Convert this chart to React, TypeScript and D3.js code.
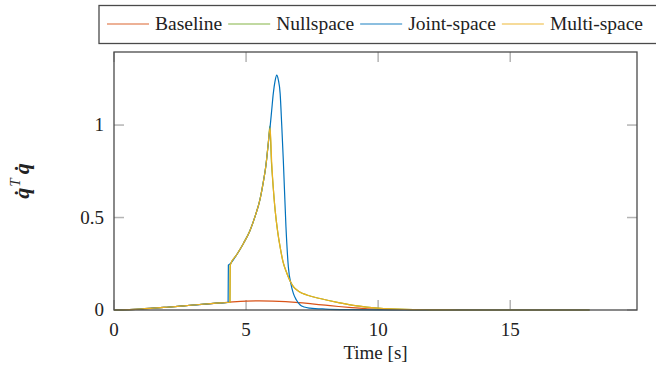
import React, { useEffect, useRef } from 'react';
import * as d3 from 'd3';

const seriesNames = ['Baseline', 'Nullspace', 'Joint-space', 'Multi-space'];
const seriesColors = ['#D95319', '#77AC30', '#0072BD', '#EDB120'];

const baselineT = [0, 1, 2, 3, 4, 4.5, 5, 5.5, 6, 6.5, 7, 7.5, 8, 8.5, 9, 9.5, 10, 11, 12, 14, 18];
const baselineV = [0, 0.005, 0.015, 0.027, 0.038, 0.044, 0.048, 0.049, 0.048, 0.045, 0.04, 0.033, 0.026, 0.019, 0.013, 0.008, 0.005, 0.002, 0.0005, 0, 0];

const nullspaceT = [0, 1, 2, 3, 4, 4.39, 4.4, 4.65, 4.9, 5.15, 5.35, 5.53, 5.65, 5.75, 5.84, 5.9, 5.96, 6.03, 6.1, 6.2, 6.29, 6.4, 6.54, 6.79, 7.0, 7.3, 7.8, 8.5, 9.2, 10, 11, 12, 13, 18];
const nullspaceV = [0, 0.005, 0.015, 0.027, 0.038, 0.042, 0.243, 0.3, 0.36, 0.43, 0.51, 0.6, 0.69, 0.78, 0.9, 0.995, 0.8, 0.66, 0.54, 0.42, 0.34, 0.26, 0.2, 0.126, 0.1, 0.081, 0.062, 0.04, 0.022, 0.01, 0.003, 0.001, 0, 0];

const jointT = [0, 1, 2, 3, 4, 4.32, 4.33, 4.4, 4.65, 4.9, 5.15, 5.35, 5.53, 5.65, 5.75, 5.84, 5.91, 5.97, 6.03, 6.1, 6.16, 6.22, 6.29, 6.35, 6.41, 6.51, 6.6, 6.7, 6.79, 6.9, 7.05, 7.2, 7.42, 8, 9, 10, 11, 18];
const jointV = [0, 0.005, 0.015, 0.027, 0.038, 0.041, 0.243, 0.25, 0.3, 0.36, 0.43, 0.51, 0.6, 0.69, 0.78, 0.9, 0.99, 1.08, 1.17, 1.24, 1.27, 1.245, 1.17, 1.0, 0.81, 0.45, 0.234, 0.14, 0.09, 0.055, 0.027, 0.016, 0.01, 0.005, 0.002, 0.001, 0, 0];

const multiT = [0, 1, 2, 3, 4, 4.39, 4.4, 4.65, 4.9, 5.15, 5.35, 5.53, 5.65, 5.75, 5.84, 5.91, 5.97, 6.03, 6.1, 6.2, 6.29, 6.4, 6.54, 6.79, 7.0, 7.3, 7.8, 8.5, 9.2, 10, 11, 12, 13, 18];
const multiV = [0, 0.005, 0.015, 0.027, 0.038, 0.042, 0.243, 0.3, 0.36, 0.43, 0.51, 0.6, 0.69, 0.78, 0.9, 0.985, 0.8, 0.66, 0.54, 0.42, 0.34, 0.26, 0.2, 0.126, 0.1, 0.081, 0.062, 0.04, 0.022, 0.01, 0.003, 0.001, 0, 0];

const xTicks = [0, 5, 10, 15];
const yTicks = [0, 0.5, 1];
const yTickLabels = ['0', '0.5', '1'];

const App: React.FC = () => {
    const svgRef = useRef<SVGSVGElement>(null);

    useEffect(() => {
        if (!svgRef.current) return;
        const svg = d3.select(svgRef.current);
        svg.selectAll('*').remove();

        const width = 656;
        const height = 368;
        const margin = { top: 52, right: 19, bottom: 58, left: 114 };
        const innerW = width - margin.left - margin.right;
        const innerH = height - margin.top - margin.bottom;
        const serif = '"Liberation Serif", "Times New Roman", serif';

        const x = d3.scaleLinear().domain([0, 19.8]).range([margin.left, margin.left + innerW]);
        const y = d3.scaleLinear().domain([0, 1.395]).range([margin.top + innerH, margin.top]);

        const data = [
            d3.zip(baselineT, baselineV),
            d3.zip(nullspaceT, nullspaceV),
            d3.zip(jointT, jointV),
            d3.zip(multiT, multiV),
        ];

        // Ticks (inside, mirrored)
        const tickLen = 10;
        const tickColor = '#b4b4b4';
        const ticks = svg.append('g');
        xTicks.forEach(t => {
            ticks.append('line').attr('x1', x(t)).attr('x2', x(t))
                .attr('y1', y(0)).attr('y2', y(0) - tickLen)
                .attr('stroke', tickColor).attr('stroke-width', 1.5);
            ticks.append('line').attr('x1', x(t)).attr('x2', x(t))
                .attr('y1', margin.top).attr('y2', margin.top + tickLen)
                .attr('stroke', tickColor).attr('stroke-width', 1.5);
        });
        yTicks.forEach(t => {
            ticks.append('line').attr('x1', margin.left).attr('x2', margin.left + tickLen)
                .attr('y1', y(t)).attr('y2', y(t))
                .attr('stroke', tickColor).attr('stroke-width', 1.5);
            ticks.append('line').attr('x1', margin.left + innerW).attr('x2', margin.left + innerW - tickLen)
                .attr('y1', y(t)).attr('y2', y(t))
                .attr('stroke', tickColor).attr('stroke-width', 1.5);
        });

        // Lines
        const line = d3.line<[number, number]>()
            .x(d => x(d[0]))
            .y(d => y(d[1]))
            .curve(d3.curveMonotoneX);

        const plot = svg.append('g');
        data.forEach((d, i) => {
            plot.append('path')
                .datum(d as [number, number][])
                .attr('d', line)
                .attr('fill', 'none')
                .attr('stroke', seriesColors[i])
                .attr('stroke-width', 1.2);
        });

        // Frame
        svg.append('rect')
            .attr('x', margin.left).attr('y', margin.top)
            .attr('width', innerW).attr('height', innerH)
            .attr('fill', 'none').attr('stroke', '#4a4a4a').attr('stroke-width', 1.3);

        // Tick labels
        svg.append('g').selectAll('text').data(xTicks).enter().append('text')
            .attr('x', d => x(d)).attr('y', y(0) + 26)
            .attr('text-anchor', 'middle')
            .attr('font-family', serif).attr('font-size', 19)
            .attr('fill', '#222')
            .text(d => String(d));

        svg.append('g').selectAll('text').data(yTicks).enter().append('text')
            .attr('x', margin.left - 10).attr('y', d => y(d) + 6)
            .attr('text-anchor', 'end')
            .attr('font-family', serif).attr('font-size', 19)
            .attr('fill', '#222')
            .text((d, i) => yTickLabels[i]);

        // Axis titles
        svg.append('text')
            .attr('x', margin.left + innerW / 2).attr('y', 359)
            .attr('text-anchor', 'middle')
            .attr('font-family', serif).attr('font-size', 19)
            .attr('fill', '#222')
            .text('Time [s]');

        const yl = svg.append('text')
            .attr('transform', `translate(29, ${margin.top + innerH / 2}) rotate(-90)`)
            .attr('text-anchor', 'middle')
            .attr('font-family', serif).attr('font-size', 22)
            .attr('fill', '#222');
        yl.append('tspan').attr('font-weight', 'bold').attr('font-style', 'italic').text('q\u0307');
        yl.append('tspan').attr('font-style', 'italic').attr('font-size', 15).attr('dy', -9).attr('dx', 1).text('T');
        yl.append('tspan').attr('font-weight', 'bold').attr('font-style', 'italic').attr('dy', 9).attr('dx', 4).text('q\u0307');

        // Legend
        const legend = svg.append('g');
        const box = legend.append('rect')
            .attr('fill', 'white').attr('stroke', '#4a4a4a').attr('stroke-width', 1.3);
        const lx0 = 99;
        const ly = 24;
        let cx = lx0 + 8;
        seriesNames.forEach((name, i) => {
            legend.append('line')
                .attr('x1', cx).attr('x2', cx + 42)
                .attr('y1', ly).attr('y2', ly)
                .attr('stroke', seriesColors[i]).attr('stroke-width', 1.3)
                .attr('opacity', 0.6);
            cx += 48;
            const t = legend.append('text')
                .attr('x', cx).attr('y', ly + 6)
                .attr('font-family', serif).attr('font-size', 19.5)
                .attr('fill', '#222')
                .text(name);
            const w = (t.node() as SVGTextElement).getComputedTextLength();
            cx += w + 6;
        });
        box.attr('x', lx0).attr('y', 5.5).attr('width', cx - lx0 + 8).attr('height', 38);
    }, []);

    return (
        <svg
            ref={svgRef}
            width={656}
            height={368}
            style={{ position: 'absolute', left: 0, top: 0, background: 'white' }}
        />
    );
};

export default App;
